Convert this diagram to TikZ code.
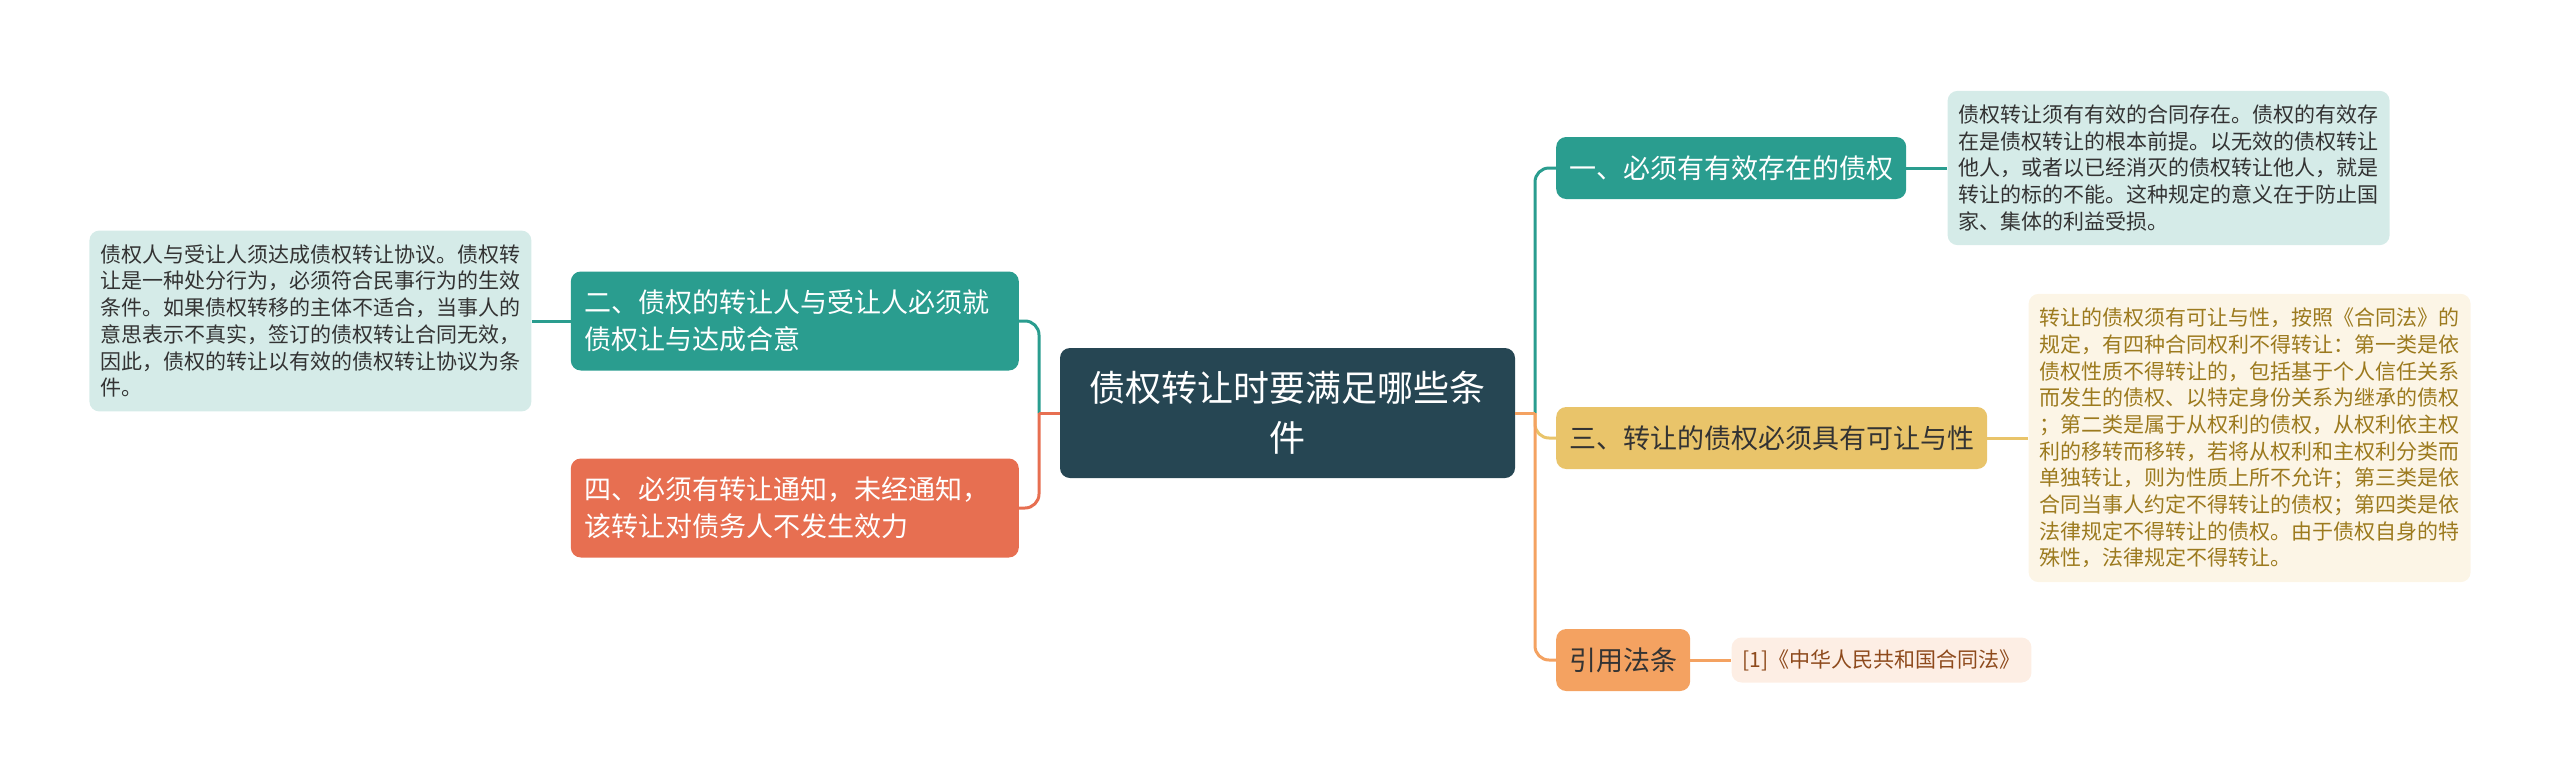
\documentclass[tikz,border=0pt]{standalone}
\usepackage{fontspec}
\setmainfont{Noto Sans CJK SC}
\usetikzlibrary{positioning}
\definecolor{rootfill}{HTML}{264653}
\definecolor{tealfill}{HTML}{2A9D8F}
\definecolor{sandfill}{HTML}{E9C46A}
\definecolor{peachfill}{HTML}{F4A261}
\definecolor{coralfill}{HTML}{E76F51}
\definecolor{tealleaf}{HTML}{D5EBE8}
\definecolor{sandleaf}{HTML}{FCF5E6}
\definecolor{peachleaf}{HTML}{FDEEE4}
\definecolor{inkdark}{HTML}{333333}
\definecolor{sandink}{HTML}{9C7A1E}
\definecolor{peachink}{HTML}{8E4A1C}
\newcommand{\rootsize}{\fontsize{36}{50}\selectfont}
\newcommand{\branchsize}{\fontsize{27}{37}\selectfont}
\newcommand{\leafsize}{\fontsize{21}{26.7}\selectfont}

\begin{document}
\begin{tikzpicture}[
  x=1pt, y=-1pt,
  link/.style={line width=3pt, rounded corners=14pt},
  root/.style={fill=rootfill, text=white, rounded corners=10pt,
               minimum width=455pt, minimum height=130pt,
               align=center, font=\rootsize},
  branch/.style={rounded corners=10pt, minimum height=62pt,
                 inner xsep=13pt, font=\branchsize},
  widebranch/.style={rounded corners=10pt, minimum height=99pt,
                     text width=420pt, inner xsep=14pt, align=left,
                     text=white, font=\branchsize},
  leaf/.style={rounded corners=10pt, text width=420pt,
               inner xsep=11pt, inner ysep=14pt, align=left,
               font=\leafsize},
  refleaf/.style={rounded corners=10pt, minimum height=45pt,
                  inner xsep=11pt, fill=peachleaf, text=peachink,
                  font=\leafsize},
]
\useasboundingbox (0,0) rectangle (2560,782);

% --- Central topic ---
\node[root] (root) at (1287.5,413) {债权转让时要满足哪些条\\件};

% --- Right-hand branches ---
\node[branch, fill=tealfill, text=white, anchor=west] (must) at (1556,168)
  {一、必须有有效存在的债权};
\node[branch, fill=sandfill, text=inkdark, anchor=west] (assign) at (1556,438)
  {三、转让的债权必须具有可让与性};
\node[branch, fill=peachfill, text=inkdark, anchor=west] (cite) at (1556,660)
  {引用法条};

% --- Left-hand branches ---
\node[widebranch, fill=tealfill, anchor=east] (agree) at (1019,321)
  {二、债权的转让人与受让人必须就\\债权让与达成合意};
\node[widebranch, fill=coralfill, anchor=east] (notice) at (1019,508)
  {四、必须有转让通知，未经通知，\\该转让对债务人不发生效力};

% --- Notes ---
\node[leaf, fill=tealleaf, text=inkdark, right=41pt of must] (mustnote)
  {债权转让须有有效的合同存在。债权的有效存\\
   在是债权转让的根本前提。以无效的债权转让\\
   他人，或者以已经消灭的债权转让他人，就是\\
   转让的标的不能。这种规定的意义在于防止国\\
   家、集体的利益受损。};
\node[leaf, fill=sandleaf, text=sandink, right=41pt of assign] (assignnote)
  {转让的债权须有可让与性，按照《合同法》的\\
   规定，有四种合同权利不得转让：第一类是依\\
   债权性质不得转让的，包括基于个人信任关系\\
   而发生的债权、以特定身份关系为继承的债权\\
   ；第二类是属于从权利的债权，从权利依主权\\
   利的移转而移转，若将从权利和主权利分类而\\
   单独转让，则为性质上所不允许；第三类是依\\
   合同当事人约定不得转让的债权；第四类是依\\
   法律规定不得转让的债权。由于债权自身的特\\
   殊性，法律规定不得转让。};
\node[refleaf, right=41pt of cite] (citenote) {[1]《中华人民共和国合同法》};
\node[leaf, fill=tealleaf, text=inkdark, left=39pt of agree] (agreenote)
  {债权人与受让人须达成债权转让协议。债权转\\
   让是一种处分行为，必须符合民事行为的生效\\
   条件。如果债权转移的主体不适合，当事人的\\
   意思表示不真实，签订的债权转让合同无效，\\
   因此，债权的转让以有效的债权转让协议为条\\
   件。};

% Junctions beside the central topic
\coordinate (rjoint) at (1535,413);
\coordinate (ljoint) at (1039,413);

% Right side: sand first so the peach trunk stays on top
\draw[link, draw=sandfill] (rjoint) |- (assign.west);
\draw[link, draw=tealfill] (rjoint) |- (must.west);
\draw[link, draw=peachfill] (rjoint) |- (cite.west);
\draw[link, draw=peachfill] (root.east) -- (rjoint);

% Left side
\draw[link, draw=tealfill] (ljoint) |- (agree.east);
\draw[link, draw=coralfill] (ljoint) |- (notice.east);
\draw[link, draw=coralfill] (root.west) -- (ljoint);

% Branch-to-note links
\draw[link, draw=tealfill] (must.east) -- (must.east -| mustnote.west);
\draw[link, draw=sandfill] (assign.east) -- (assign.east -| assignnote.west);
\draw[link, draw=peachfill] (cite.east) -- (cite.east -| citenote.west);
\draw[link, draw=tealfill] (agree.west) -- (agree.west -| agreenote.east);
\end{tikzpicture}
\end{document}
